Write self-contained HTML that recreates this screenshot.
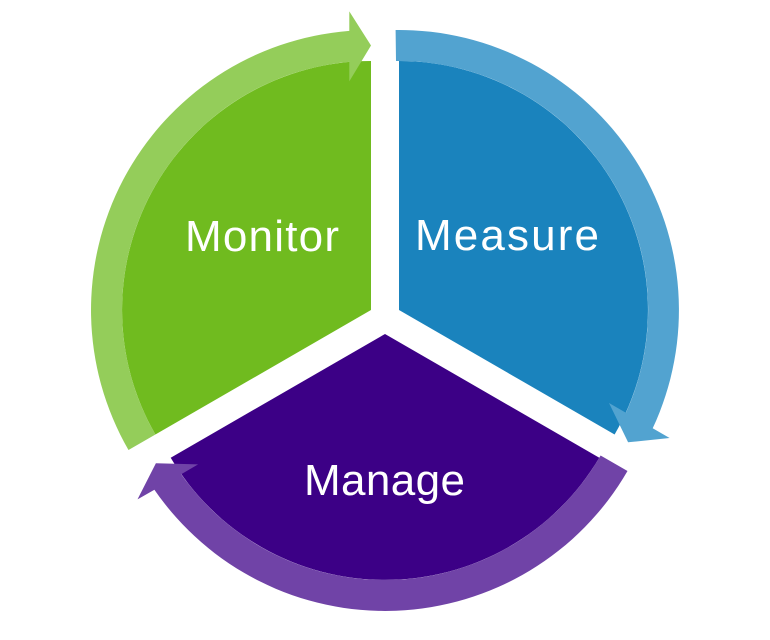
<!DOCTYPE html>
<html>
<head>
<meta charset="utf-8">
<style>
  html, body { margin: 0; padding: 0; background: #ffffff; }
  body { width: 770px; height: 640px; overflow: hidden; }
  svg { display: block; }
  text { font-family: "Liberation Sans", Arial, sans-serif; font-size: 44px; fill: #ffffff; }
</style>
</head>
<body>
<svg width="770" height="640" viewBox="0 0 770 640" xmlns="http://www.w3.org/2000/svg">
  <rect x="0" y="0" width="770" height="640" fill="#ffffff"/>

  <!-- Sector fills -->
  <path d="M371,310 L371,61 A249,249 0 0 0 155.4,434.5 Z" fill="#70BB1F"/>
  <path d="M399,310 L399,61 A249,249 0 0 1 614.6,434.5 Z" fill="#1A83BD"/>
  <path d="M385,334 L599.3,457.7 A249,249 0 0 1 170.7,457.7 Z" fill="#3C0086"/>

  <!-- Curved arrow bands -->
  <path d="M128.5,450 A280,280 0 0 1 349.3,30.9 L349.3,11.4 L371,45.5 L349.3,81.4 L349.3,61.9 A249,249 0 0 0 155.4,434.5 Z" fill="#94CD5A"/>
  <path d="M395.6,30 A280,280 0 0 1 652.7,428.3 L669.6,438 L628.1,442.3 L609,403 L625.9,412.8 A249,249 0 0 0 396,61 Z" fill="#52A3D0"/>
  <path d="M627.5,471 A280,280 0 0 1 154.4,489.7 L137.5,499.4 L155.9,463.3 L198.1,464.4 L181.2,474.2 A249,249 0 0 0 600.6,455.5 Z" fill="#7043A7"/>

  <!-- Labels -->
  <text x="185" y="251" textLength="154" lengthAdjust="spacing">Monitor</text>
  <text x="415" y="250" textLength="184" lengthAdjust="spacing">Measure</text>
  <text x="304" y="495" textLength="161" lengthAdjust="spacing">Manage</text>
</svg>
</body>
</html>
